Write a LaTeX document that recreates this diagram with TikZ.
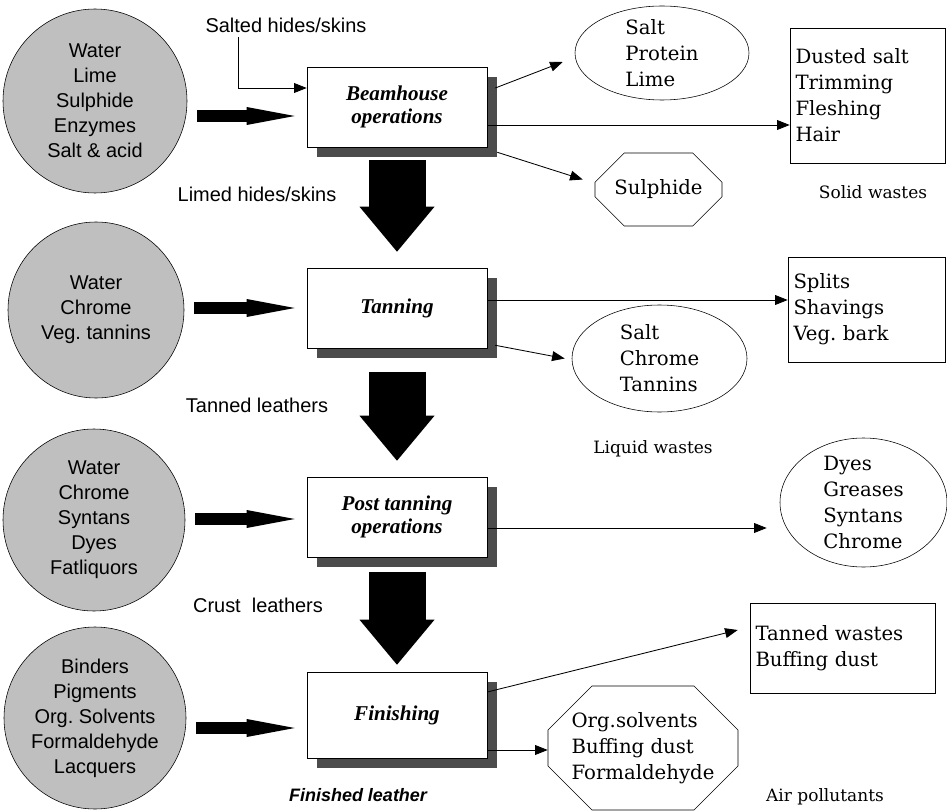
\documentclass[tikz,border=0pt]{standalone}
\usepackage{fontspec}
\setmainfont{DejaVu Serif}
\newfontfamily\ingrfont{Liberation Sans}
\newfontfamily\stepfont{Liberation Serif}
\usetikzlibrary{arrows.meta,shapes.geometric,shapes.misc,shadows}

\tikzstyle{ingredient} = [circle, draw=black, fill=black!25, align=center, inner sep=0, font=\ingrfont\fontsize{14.2pt}{17.8pt}\selectfont]
\tikzstyle{process} = [rectangle, draw=black, fill=white, minimum width=4.5cm, minimum height=2cm, align=center, font=\stepfont\bfseries\itshape\fontsize{15pt}{16.4pt}\selectfont, drop shadow={shadow xshift=0.25cm, shadow yshift=-0.25cm, fill=black!70, opacity=1}]
\tikzstyle{waste} = [align=left, inner sep=2pt, font=\fontsize{14pt}{18.5pt}\selectfont]
\tikzstyle{wastebox} = [waste, rectangle, draw=black]
\tikzstyle{wasteellipse} = [waste, ellipse, draw=black, inner xsep=0pt, inner ysep=-0.1cm]
\tikzstyle{wasteoct} = [waste, chamfered rectangle, draw=black]
\tikzstyle{flow} = [font=\ingrfont\fontsize{14.2pt}{17.8pt}\selectfont]
\tikzstyle{kind} = [font=\fontsize{12.1pt}{14pt}\selectfont]
\tikzstyle{thinarrow} = [-{Triangle[length=9pt,width=7pt]}, draw=black, line width=0.6pt]
\tikzstyle{fatarrow} = [-{Triangle[length=1.2cm,width=0.45cm,line width=0pt]}, line width=0.3cm, shorten <=0.25cm, shorten >=0.3cm]
\tikzstyle{bigarrow} = [-{Triangle[length=1.125cm,width=1.875cm,line width=0pt]}, line width=1.425cm]

\begin{document}
\begin{tikzpicture}

\useasboundingbox (0,0) rectangle (23.675,20.25);

%INPUT
\node[ingredient, minimum size=4.6cm] (c1) at (2.375,17.725) {Water\\Lime\\Sulphide\\Enzymes\\Salt \& acid};
\node[ingredient, minimum size=4.4cm] (c2) at (2.4,12.5) {Water\\Chrome\\Veg.\ tannins};
\node[ingredient, minimum size=4.55cm] (c3) at (2.35,7.25) {Water\\Chrome\\Syntans\\Dyes\\Fatliquors};
\node[ingredient, minimum size=4.55cm] (c4) at (2.375,2.3) {Binders\\Pigments\\Org.\ Solvents\\Formaldehyde\\Lacquers};


% PROCESS
\node[process] (b1) at (9.925,17.575) {Beamhouse\\operations};
\node[process] (b2) at (9.925,12.55) {Tanning};
\node[process] (b3) at (9.925,7.325) {Post tanning\\operations};
\node[process, minimum height=2.15cm] (b4) at (9.925,2.375) {Finishing};

\node[flow] (salted) at (7.15,19.625) {Salted hides/skins};
\node[flow] (limed) at (6.425,15.4) {Limed hides/skins};
\node[flow] (tanned) at (6.425,10.125) {Tanned leathers};
\node[flow] (crust) at (6.45,5.125) {Crust\ \ leathers};
\node[flow, font=\ingrfont\bfseries\itshape\fontsize{12.8pt}{15pt}\selectfont] (finished) at (8.95,0.375) {Finished leather};

\draw[fatarrow] ([yshift=-0.225cm]b1.west -| c1.east) -- ([yshift=-0.225cm]b1.west);
\draw[fatarrow] (b2.west -| c2.east) -- (b2.west);
\draw[fatarrow] ([yshift=-0.05cm]b3.west -| c3.east) -- ([yshift=-0.05cm]b3.west);
\draw[fatarrow] ([yshift=-0.325cm]b4.west -| c4.east) -- ([yshift=-0.325cm]b4.west);

\draw[bigarrow, shorten <=0.325cm, shorten >=0.4cm] (b1.south) -- (b2.north);
\draw[bigarrow, shorten <=0.6cm, shorten >=0.4cm] (b2.south) -- (b3.north);
\draw[bigarrow, shorten <=0.375cm, shorten >=0.175cm] (b3.south) -- (b4.north);

\draw[thinarrow] ([xshift=-1.2cm]salted.south) |- ([yshift=0.475cm]b1.west);


% OUTPUT
\node[wasteellipse, minimum width=4.35cm, minimum height=2.35cm] (e1) at (16.55,18.925) {Salt\\Protein\\Lime};
\node[wastebox, minimum width=3.875cm, minimum height=3.375cm, text width=3.6cm] (r1) at (21.6875,17.8625) {Dusted salt\\Trimming\\Fleshing\\Hair};
\node[wasteoct, minimum width=3.175cm, minimum height=1.825cm, chamfered rectangle xsep=0.45cm, chamfered rectangle ysep=0.425cm] (o1) at (16.4625,15.5125) {Sulphide};
\node[kind] (solid) at (21.825,15.45) {Solid wastes};

\draw[thinarrow] ([xshift=0.2cm,yshift=0.475cm]b1.east) -- ([xshift=-0.3cm,yshift=-0.225cm]e1.west);
\draw[thinarrow] ([yshift=-0.45cm]b1.east) -- ([yshift=-0.45cm]b1.east -| r1.west);
\draw[thinarrow] ([xshift=0.25cm,yshift=-0.125cm]b1.south east) -- ([xshift=-0.3cm,yshift=0.25cm]o1.west);

\node[wastebox, minimum width=3.925cm, minimum height=2.625cm, text width=3.65cm] (r2) at (21.6625,12.5125) {Splits\\Shavings\\Veg.\ bark};
\node[wasteellipse, minimum width=4.375cm, minimum height=2.675cm] (e2) at (16.4875,11.2875) {Salt\\Chrome\\Tannins};
\node[kind] (liquid) at (16.325,9.025) {Liquid wastes};

\draw[thinarrow] ([yshift=0.2cm]b2.east) -- ([yshift=0.2cm]b2.east -| r2.west);
\draw[thinarrow] ([xshift=0.2cm,yshift=0.075cm]b2.south east) -- ([xshift=-0.175cm]e2.west);

\node[wasteellipse, minimum width=4.175cm, minimum height=3.225cm] (e3) at (21.5875,7.6875) {Dyes\\Greases\\Syntans\\Chrome};

\draw[thinarrow, shorten >=0.325cm] ([yshift=-0.275cm]b3.east) -- ([yshift=-0.275cm]b3.east -| e3.west);

\node[wastebox, minimum width=4.625cm, minimum height=2.25cm, text width=4.35cm] (r4) at (21.0625,4.05) {Tanned wastes\\Buffing dust};
\node[wasteoct, inner sep=0pt, minimum width=4.75cm, minimum height=3.1cm, chamfered rectangle xsep=0.5cm, chamfered rectangle ysep=0.6cm] (o4) at (16.075,1.55) {Org.solvents\\Buffing dust\\Formaldehyde};
\node[kind] (air) at (20.625,0.325) {Air pollutants};

\draw[thinarrow] ([yshift=0.575cm]b4.east) -- ([xshift=-0.3cm,yshift=0.45cm]r4.west);
\draw[thinarrow] ([yshift=-0.875cm]b4.east) -- ([yshift=-0.875cm]b4.east -| o4.west);

\end{tikzpicture}
\end{document}
